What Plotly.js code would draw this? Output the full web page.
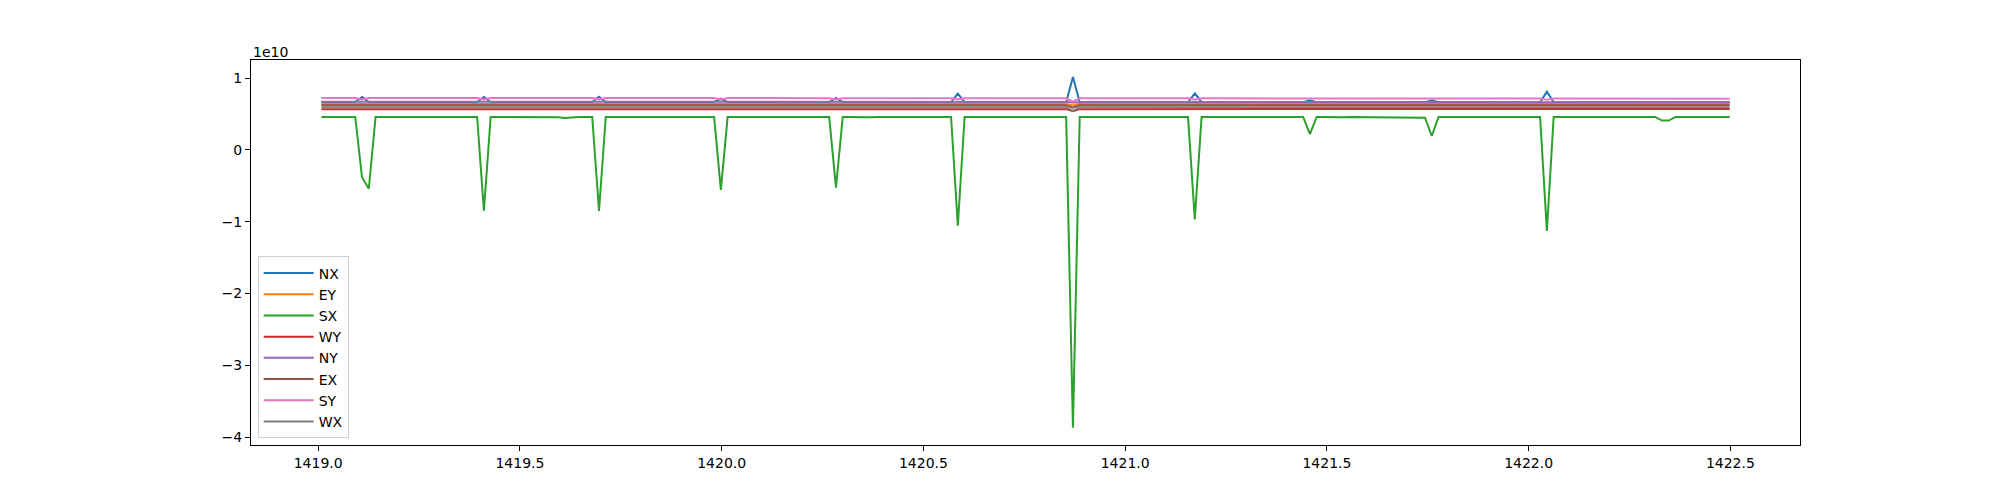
<!DOCTYPE html>
<html>
<head>
<meta charset="utf-8">
<script src="https://cdn.plot.ly/plotly-3.0.1.min.js"></script>
<style>html,body{margin:0;padding:0;background:#fff;}#chart{width:2000px;height:500px;}</style>
</head>
<body>
<div id="chart"></div>
<script>
// sampling grid (time axis)
const T_START = 1419.008;
const T_STEP = 0.01678;
const N_SAMPLES = 209;

// series values, in units of 1e9
const VALUE_UNIT = 1e9;

const NX = [
/*0*/   6.68,6.68,6.68,6.68,6.68,6.68,7.38,6.68,6.68,6.68,
/*10*/  6.68,6.68,6.68,6.68,6.68,6.68,6.68,6.68,6.68,6.68,
/*20*/  6.68,6.68,6.68,6.68,7.38,6.68,6.68,6.68,6.68,6.68,
/*30*/  6.68,6.68,6.68,6.68,6.68,6.68,6.68,6.68,6.68,6.68,
/*40*/  6.68,7.42,6.68,6.68,6.68,6.68,6.68,6.68,6.68,6.68,
/*50*/  6.68,6.68,6.68,6.68,6.68,6.68,6.68,6.68,6.68,7.14,
/*60*/  6.68,6.68,6.68,6.68,6.68,6.68,6.68,6.68,6.68,6.68,
/*70*/  6.68,6.68,6.68,6.68,6.68,6.68,7.26,6.68,6.68,6.68,
/*80*/  6.68,6.68,6.68,6.68,6.68,6.68,6.68,6.68,6.68,6.68,
/*90*/  6.68,6.68,6.68,6.68,7.84,6.68,6.68,6.68,6.68,6.68,
/*100*/ 6.66,6.66,6.66,6.66,6.66,6.66,6.66,6.66,6.66,6.66,
/*110*/ 6.66,10.17,6.66,6.66,6.66,6.66,6.66,6.66,6.66,6.66,
/*120*/ 6.66,6.66,6.66,6.66,6.66,6.66,6.66,6.66,6.66,7.90,
/*130*/ 6.66,6.66,6.66,6.66,6.66,6.66,6.66,6.66,6.66,6.66,
/*140*/ 6.65,6.65,6.65,6.65,6.65,6.65,6.92,6.65,6.65,6.65,
/*150*/ 6.65,6.65,6.65,6.65,6.65,6.65,6.65,6.65,6.65,6.65,
/*160*/ 6.65,6.65,6.65,6.65,6.92,6.65,6.65,6.65,6.65,6.65,
/*170*/ 6.64,6.64,6.64,6.64,6.64,6.64,6.64,6.64,6.64,6.64,
/*180*/ 6.64,8.12,6.64,6.64,6.64,6.64,6.64,6.64,6.64,6.64,
/*190*/ 6.64,6.64,6.64,6.64,6.64,6.64,6.64,6.64,6.70,6.70,
/*200*/ 6.64,6.64,6.64,6.64,6.64,6.64,6.64,6.64,6.64
];

const EY = [
/*0*/   6.42,6.42,6.42,6.42,6.42,6.42,6.36,6.42,6.42,6.42,
/*10*/  6.42,6.42,6.42,6.42,6.42,6.42,6.42,6.42,6.42,6.42,
/*20*/  6.42,6.42,6.42,6.42,6.36,6.42,6.42,6.42,6.42,6.42,
/*30*/  6.42,6.42,6.42,6.42,6.42,6.42,6.42,6.42,6.42,6.42,
/*40*/  6.42,6.36,6.42,6.42,6.42,6.42,6.42,6.42,6.42,6.42,
/*50*/  6.42,6.42,6.42,6.42,6.42,6.42,6.42,6.42,6.42,6.37,
/*60*/  6.42,6.42,6.42,6.42,6.42,6.42,6.42,6.42,6.42,6.42,
/*70*/  6.42,6.42,6.42,6.42,6.42,6.42,6.36,6.42,6.42,6.42,
/*80*/  6.42,6.42,6.42,6.42,6.42,6.42,6.42,6.42,6.42,6.42,
/*90*/  6.42,6.42,6.42,6.42,6.35,6.42,6.42,6.42,6.42,6.42,
/*100*/ 6.42,6.42,6.42,6.42,6.42,6.42,6.42,6.42,6.42,6.42,
/*110*/ 6.42,6.20,6.42,6.42,6.42,6.42,6.42,6.42,6.42,6.42,
/*120*/ 6.42,6.42,6.42,6.42,6.42,6.42,6.42,6.42,6.42,6.35,
/*130*/ 6.42,6.42,6.42,6.42,6.42,6.42,6.42,6.42,6.42,6.42,
/*140*/ 6.42,6.42,6.42,6.42,6.42,6.42,6.40,6.42,6.42,6.42,
/*150*/ 6.42,6.42,6.42,6.42,6.42,6.42,6.42,6.42,6.42,6.42,
/*160*/ 6.42,6.42,6.42,6.42,6.40,6.42,6.42,6.42,6.42,6.42,
/*170*/ 6.42,6.42,6.42,6.42,6.42,6.42,6.42,6.42,6.42,6.42,
/*180*/ 6.42,6.35,6.42,6.42,6.42,6.42,6.42,6.42,6.42,6.42,
/*190*/ 6.42,6.42,6.42,6.42,6.42,6.42,6.42,6.42,6.42,6.42,
/*200*/ 6.42,6.42,6.42,6.42,6.42,6.42,6.42,6.42,6.42
];

const SX = [
/*0*/   4.6,4.6,4.6,4.6,4.6,4.6,-3.8,-5.4,4.6,4.6,
/*10*/  4.6,4.6,4.6,4.6,4.6,4.6,4.6,4.6,4.6,4.6,
/*20*/  4.6,4.6,4.6,4.6,-8.45,4.6,4.6,4.6,4.6,4.6,
/*30*/  4.6,4.6,4.6,4.6,4.6,4.55,4.45,4.55,4.6,4.6,
/*40*/  4.6,-8.5,4.6,4.6,4.6,4.6,4.6,4.6,4.6,4.6,
/*50*/  4.6,4.6,4.6,4.6,4.6,4.6,4.6,4.6,4.6,-5.55,
/*60*/  4.6,4.6,4.6,4.6,4.6,4.6,4.6,4.6,4.6,4.6,
/*70*/  4.6,4.6,4.55,4.5,4.6,4.6,-5.25,4.6,4.6,4.55,
/*80*/  4.5,4.55,4.6,4.6,4.6,4.6,4.6,4.6,4.6,4.6,
/*90*/  4.6,4.6,4.6,4.6,-10.55,4.6,4.6,4.6,4.6,4.6,
/*100*/ 4.6,4.6,4.6,4.6,4.6,4.6,4.6,4.6,4.6,4.6,
/*110*/ 4.6,-38.7,4.6,4.6,4.6,4.6,4.6,4.6,4.6,4.6,
/*120*/ 4.6,4.6,4.6,4.6,4.6,4.6,4.6,4.6,4.6,-9.67,
/*130*/ 4.6,4.6,4.6,4.6,4.6,4.6,4.6,4.6,4.6,4.6,
/*140*/ 4.6,4.6,4.6,4.6,4.6,4.6,2.2,4.6,4.6,4.55,
/*150*/ 4.5,4.55,4.6,4.6,4.6,4.6,4.6,4.6,4.6,4.6,
/*160*/ 4.6,4.6,4.6,4.5,1.95,4.6,4.6,4.6,4.6,4.6,
/*170*/ 4.6,4.6,4.6,4.6,4.6,4.6,4.6,4.6,4.6,4.6,
/*180*/ 4.6,-11.27,4.6,4.6,4.6,4.6,4.55,4.5,4.55,4.6,
/*190*/ 4.6,4.6,4.6,4.6,4.6,4.6,4.6,4.6,4.1,4.1,
/*200*/ 4.6,4.6,4.6,4.6,4.6,4.6,4.6,4.6,4.6
];

const WY = [
/*0*/   5.66,5.66,5.66,5.66,5.66,5.66,5.62,5.66,5.66,5.66,
/*10*/  5.66,5.66,5.66,5.66,5.66,5.66,5.66,5.66,5.66,5.66,
/*20*/  5.66,5.66,5.66,5.66,5.62,5.66,5.66,5.66,5.66,5.66,
/*30*/  5.67,5.67,5.67,5.67,5.67,5.67,5.67,5.67,5.67,5.67,
/*40*/  5.67,5.62,5.67,5.67,5.67,5.67,5.67,5.67,5.67,5.67,
/*50*/  5.67,5.67,5.67,5.67,5.67,5.67,5.67,5.67,5.67,5.63,
/*60*/  5.68,5.68,5.68,5.68,5.68,5.68,5.68,5.68,5.68,5.68,
/*70*/  5.68,5.68,5.68,5.68,5.68,5.68,5.63,5.68,5.68,5.68,
/*80*/  5.68,5.68,5.68,5.68,5.68,5.68,5.68,5.68,5.68,5.68,
/*90*/  5.69,5.69,5.69,5.69,5.62,5.69,5.69,5.69,5.69,5.69,
/*100*/ 5.69,5.69,5.69,5.69,5.69,5.69,5.69,5.69,5.69,5.69,
/*110*/ 5.69,5.40,5.69,5.69,5.69,5.69,5.69,5.69,5.69,5.69,
/*120*/ 5.70,5.70,5.70,5.70,5.70,5.70,5.70,5.70,5.70,5.63,
/*130*/ 5.70,5.70,5.70,5.70,5.70,5.70,5.70,5.70,5.70,5.70,
/*140*/ 5.71,5.71,5.71,5.71,5.71,5.71,5.69,5.71,5.71,5.71,
/*150*/ 5.71,5.71,5.71,5.71,5.71,5.71,5.71,5.71,5.71,5.71,
/*160*/ 5.71,5.71,5.71,5.71,5.69,5.71,5.71,5.71,5.71,5.71,
/*170*/ 5.72,5.72,5.72,5.72,5.72,5.72,5.72,5.72,5.72,5.72,
/*180*/ 5.72,5.64,5.72,5.72,5.72,5.72,5.72,5.72,5.72,5.72,
/*190*/ 5.72,5.72,5.72,5.72,5.72,5.72,5.72,5.72,5.72,5.72,
/*200*/ 5.72,5.72,5.72,5.72,5.72,5.72,5.72,5.72,5.72
];

const NY = [
/*0*/   6.72,6.72,6.72,6.72,6.72,6.72,6.70,6.72,6.72,6.72,
/*10*/  6.72,6.72,6.72,6.72,6.72,6.72,6.72,6.72,6.72,6.72,
/*20*/  6.72,6.72,6.72,6.72,6.70,6.72,6.72,6.72,6.72,6.72,
/*30*/  6.72,6.72,6.72,6.72,6.72,6.72,6.72,6.72,6.72,6.72,
/*40*/  6.72,6.70,6.72,6.72,6.72,6.72,6.72,6.72,6.72,6.72,
/*50*/  6.71,6.71,6.71,6.71,6.71,6.71,6.71,6.71,6.71,6.69,
/*60*/  6.71,6.71,6.71,6.71,6.71,6.71,6.71,6.71,6.71,6.71,
/*70*/  6.70,6.70,6.70,6.70,6.70,6.70,6.68,6.70,6.70,6.70,
/*80*/  6.70,6.70,6.70,6.70,6.70,6.70,6.70,6.70,6.70,6.70,
/*90*/  6.70,6.70,6.70,6.70,6.68,6.70,6.70,6.70,6.70,6.70,
/*100*/ 6.69,6.69,6.69,6.69,6.69,6.69,6.69,6.69,6.69,6.69,
/*110*/ 6.69,6.60,6.69,6.69,6.69,6.69,6.69,6.69,6.69,6.69,
/*120*/ 6.68,6.68,6.68,6.68,6.68,6.68,6.68,6.68,6.68,6.66,
/*130*/ 6.68,6.68,6.68,6.68,6.68,6.68,6.68,6.68,6.68,6.68,
/*140*/ 6.67,6.67,6.67,6.67,6.67,6.67,6.70,6.67,6.67,6.67,
/*150*/ 6.67,6.67,6.67,6.67,6.67,6.67,6.67,6.67,6.67,6.67,
/*160*/ 6.66,6.66,6.66,6.66,6.69,6.66,6.66,6.66,6.66,6.66,
/*170*/ 6.66,6.66,6.66,6.66,6.66,6.66,6.66,6.66,6.66,6.66,
/*180*/ 6.65,6.63,6.65,6.65,6.65,6.65,6.65,6.65,6.65,6.65,
/*190*/ 6.65,6.65,6.65,6.65,6.65,6.65,6.65,6.65,6.68,6.68,
/*200*/ 6.64,6.64,6.64,6.64,6.64,6.64,6.64,6.64,6.64
];

const EX = [
/*0*/   6.22,6.22,6.22,6.22,6.22,6.22,6.15,6.22,6.22,6.22,
/*10*/  6.22,6.22,6.22,6.22,6.22,6.22,6.22,6.22,6.22,6.22,
/*20*/  6.22,6.22,6.22,6.22,6.15,6.22,6.22,6.22,6.22,6.22,
/*30*/  6.22,6.22,6.22,6.22,6.22,6.22,6.22,6.22,6.22,6.22,
/*40*/  6.22,6.15,6.22,6.22,6.22,6.22,6.22,6.22,6.22,6.22,
/*50*/  6.22,6.22,6.22,6.22,6.22,6.22,6.22,6.22,6.22,6.16,
/*60*/  6.22,6.22,6.22,6.22,6.22,6.22,6.22,6.22,6.22,6.22,
/*70*/  6.22,6.22,6.22,6.22,6.22,6.22,6.16,6.22,6.22,6.22,
/*80*/  6.22,6.22,6.22,6.22,6.22,6.22,6.22,6.22,6.22,6.22,
/*90*/  6.22,6.22,6.22,6.22,6.14,6.22,6.22,6.22,6.22,6.22,
/*100*/ 6.22,6.22,6.22,6.22,6.22,6.22,6.22,6.22,6.22,6.22,
/*110*/ 6.22,5.90,6.22,6.22,6.22,6.22,6.22,6.22,6.22,6.22,
/*120*/ 6.22,6.22,6.22,6.22,6.22,6.22,6.22,6.22,6.22,6.14,
/*130*/ 6.22,6.22,6.22,6.22,6.22,6.22,6.22,6.22,6.22,6.22,
/*140*/ 6.22,6.22,6.22,6.22,6.22,6.22,6.20,6.22,6.22,6.22,
/*150*/ 6.22,6.22,6.22,6.22,6.22,6.22,6.22,6.22,6.22,6.22,
/*160*/ 6.22,6.22,6.22,6.22,6.20,6.22,6.22,6.22,6.22,6.22,
/*170*/ 6.22,6.22,6.22,6.22,6.22,6.22,6.22,6.22,6.22,6.22,
/*180*/ 6.22,6.14,6.22,6.22,6.22,6.22,6.22,6.22,6.22,6.22,
/*190*/ 6.22,6.22,6.22,6.22,6.22,6.22,6.22,6.22,6.22,6.22,
/*200*/ 6.22,6.22,6.22,6.22,6.22,6.22,6.22,6.22,6.22
];

const SY = [
/*0*/   7.25,7.25,7.25,7.25,7.25,7.25,7.05,7.25,7.25,7.25,
/*10*/  7.25,7.25,7.25,7.25,7.25,7.25,7.25,7.25,7.25,7.25,
/*20*/  7.25,7.25,7.25,7.25,7.05,7.25,7.25,7.25,7.25,7.25,
/*30*/  7.24,7.24,7.24,7.24,7.24,7.24,7.24,7.24,7.24,7.24,
/*40*/  7.24,7.04,7.24,7.24,7.24,7.24,7.24,7.24,7.24,7.24,
/*50*/  7.23,7.23,7.23,7.23,7.23,7.23,7.23,7.23,7.23,7.05,
/*60*/  7.23,7.23,7.23,7.23,7.23,7.23,7.23,7.23,7.23,7.23,
/*70*/  7.22,7.22,7.22,7.22,7.22,7.22,7.04,7.22,7.22,7.22,
/*80*/  7.22,7.22,7.22,7.22,7.22,7.22,7.22,7.22,7.22,7.22,
/*90*/  7.21,7.21,7.21,7.21,7.02,7.21,7.21,7.21,7.21,7.21,
/*100*/ 7.20,7.20,7.20,7.20,7.20,7.20,7.20,7.20,7.20,7.20,
/*110*/ 7.20,6.75,7.20,7.20,7.20,7.20,7.20,7.20,7.20,7.20,
/*120*/ 7.19,7.19,7.19,7.19,7.19,7.19,7.19,7.19,7.19,7.00,
/*130*/ 7.19,7.19,7.19,7.19,7.19,7.19,7.19,7.19,7.19,7.19,
/*140*/ 7.18,7.18,7.18,7.18,7.18,7.18,7.10,7.18,7.18,7.18,
/*150*/ 7.17,7.17,7.17,7.17,7.17,7.17,7.17,7.17,7.17,7.17,
/*160*/ 7.17,7.17,7.17,7.17,7.10,7.17,7.17,7.17,7.17,7.17,
/*170*/ 7.16,7.16,7.16,7.16,7.16,7.16,7.16,7.16,7.16,7.16,
/*180*/ 7.16,7.00,7.16,7.16,7.16,7.16,7.16,7.16,7.16,7.16,
/*190*/ 7.15,7.15,7.15,7.15,7.15,7.15,7.15,7.15,7.15,7.15,
/*200*/ 7.15,7.15,7.15,7.15,7.15,7.15,7.15,7.15,7.15
];

const WX = [
/*0*/   5.95,5.95,5.95,5.95,5.95,5.95,5.90,5.95,5.95,5.95,
/*10*/  5.95,5.95,5.95,5.95,5.95,5.95,5.95,5.95,5.95,5.95,
/*20*/  5.95,5.95,5.95,5.95,5.90,5.95,5.95,5.95,5.95,5.95,
/*30*/  5.95,5.95,5.95,5.95,5.95,5.95,5.95,5.95,5.95,5.95,
/*40*/  5.95,5.90,5.95,5.95,5.95,5.95,5.95,5.95,5.95,5.95,
/*50*/  5.95,5.95,5.95,5.95,5.95,5.95,5.95,5.95,5.95,5.90,
/*60*/  5.95,5.95,5.95,5.95,5.95,5.95,5.95,5.95,5.95,5.95,
/*70*/  5.95,5.95,5.95,5.95,5.95,5.95,5.90,5.95,5.95,5.95,
/*80*/  5.95,5.95,5.95,5.95,5.95,5.95,5.95,5.95,5.95,5.95,
/*90*/  5.95,5.95,5.95,5.95,5.88,5.95,5.95,5.95,5.95,5.95,
/*100*/ 5.95,5.95,5.95,5.95,5.95,5.95,5.95,5.95,5.95,5.95,
/*110*/ 5.95,5.45,5.95,5.95,5.95,5.95,5.95,5.95,5.95,5.95,
/*120*/ 5.95,5.95,5.95,5.95,5.95,5.95,5.95,5.95,5.95,5.88,
/*130*/ 5.95,5.95,5.95,5.95,5.95,5.95,5.95,5.95,5.95,5.95,
/*140*/ 5.95,5.95,5.95,5.95,5.95,5.95,5.93,5.95,5.95,5.95,
/*150*/ 5.95,5.95,5.95,5.95,5.95,5.95,5.95,5.95,5.95,5.95,
/*160*/ 5.95,5.95,5.95,5.95,5.93,5.95,5.95,5.95,5.95,5.95,
/*170*/ 5.95,5.95,5.95,5.95,5.95,5.95,5.95,5.95,5.95,5.95,
/*180*/ 5.95,5.86,5.95,5.95,5.95,5.95,5.95,5.95,5.95,5.95,
/*190*/ 5.95,5.95,5.95,5.95,5.95,5.95,5.95,5.95,5.95,5.95,
/*200*/ 5.95,5.95,5.95,5.95,5.95,5.95,5.95,5.95,5.95
];

const SERIES_NAMES = ['NX','EY','SX','WY','NY','EX','SY','WX'];
const SERIES_VALUES = [NX, EY, SX, WY, NY, EX, SY, WX];
const COLORS = ['#1f77b4','#ff7f0e','#2ca02c','#d62728','#9467bd','#8c564b','#e377c2','#7f7f7f'];

const X_TICKS = [1419.0, 1419.5, 1420.0, 1420.5, 1421.0, 1421.5, 1422.0, 1422.5];
const X_TICK_LABELS = ['1419.0','1419.5','1420.0','1420.5','1421.0','1421.5','1422.0','1422.5'];
const Y_TICKS = [-4e10, -3e10, -2e10, -1e10, 0, 1e10];
const Y_TICK_LABELS = ['\u22124','\u22123','\u22122','\u22121','0','1'];

const time = [];
for (let i = 0; i < N_SAMPLES; i++) time.push(T_START + i * T_STEP);

const traces = SERIES_NAMES.map((name, k) => ({
  type: 'scatter',
  mode: 'lines',
  name: name,
  x: time,
  y: SERIES_VALUES[k].map(v => v * VALUE_UNIT),
  line: {color: COLORS[k], width: 2}
}));

const FONT = 'DejaVu Sans, sans-serif';
const axisCommon = {
  showline: true, mirror: true, linecolor: '#000', linewidth: 1,
  ticks: 'outside', ticklen: 5, tickwidth: 1, tickcolor: '#000',
  showgrid: false, zeroline: false,
  tickfont: {family: FONT, size: 14, color: '#000'}
};

const layout = {
  width: 2000, height: 500,
  paper_bgcolor: '#fff', plot_bgcolor: '#fff',
  margin: {l: 251, r: 200, t: 60, b: 55},
  showlegend: true,
  legend: {
    x: 0.0043, y: 0.017, xanchor: 'left', yanchor: 'bottom',
    itemwidth: 50, tracegroupgap: 0,
    bgcolor: 'rgba(255,255,255,0.8)', bordercolor: '#d0d0d0', borderwidth: 1,
    font: {family: FONT, size: 14, color: '#000'}
  },
  xaxis: Object.assign({}, axisCommon, {
    range: [1418.8335, 1422.6725],
    tickmode: 'array', tickvals: X_TICKS, ticktext: X_TICK_LABELS
  }),
  yaxis: Object.assign({}, axisCommon, {
    range: [-4.109e10, 1.2535e10],
    tickmode: 'array', tickvals: Y_TICKS, ticktext: Y_TICK_LABELS
  }),
  annotations: [{
    text: '1e10', xref: 'paper', yref: 'paper', x: 0, y: 1,
    xanchor: 'left', yanchor: 'bottom', showarrow: false, yshift: -2,
    font: {family: FONT, size: 14, color: '#000'}
  }]
};

Plotly.newPlot('chart', traces, layout, {staticPlot: true, displayModeBar: false});
</script>
</body>
</html>
